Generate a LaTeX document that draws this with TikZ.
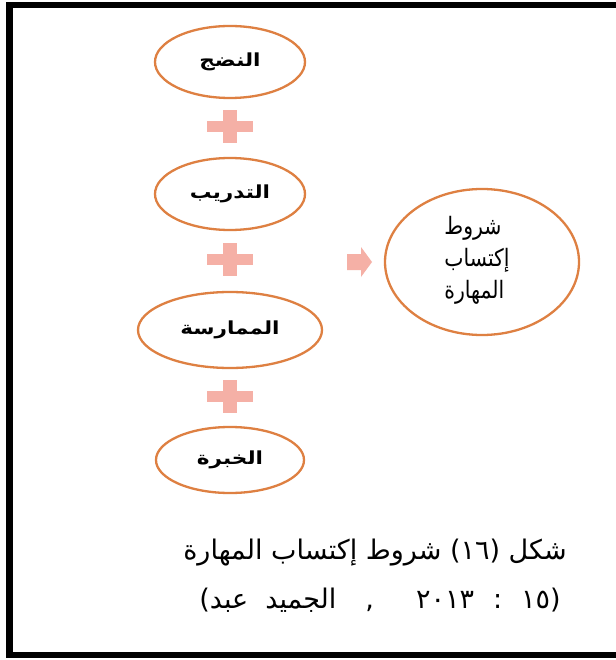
\documentclass[tikz,border=0pt]{standalone}
\usepackage{fontspec}
\usetikzlibrary{shapes.geometric}
\newfontfamily\arabicfont[Script=Arabic]{DejaVu Sans}
\newfontfamily\latinfont{DejaVu Sans}
\newfontfamily\arlabelfont[Script=Arabic,FakeStretch=1.2]{DejaVu Sans}
\newfontfamily\argoalfont[Script=Arabic,FakeStretch=0.85]{DejaVu Sans}
\definecolor{rimorange}{RGB}{222,128,66}
\definecolor{pluspink}{RGB}{245,176,166}
% each token is set as its own run
\newcommand\arword[1]{\hbox{#1}}
\newcommand\latparen[1]{\hbox{\latinfont #1}}
\begin{document}
\begin{tikzpicture}[x=1pt,y=-1pt,
  cond/.style={ellipse,draw=rimorange,line width=2.3pt,fill=white,
    minimum width=#1,minimum height=72pt,inner sep=0pt,
    font=\arlabelfont\bfseries\fontsize{18}{20}\selectfont},
  cond/.default=150pt,
  goalbox/.style={ellipse,draw=rimorange,line width=2.3pt,fill=white,
    minimum width=194pt,minimum height=146pt,inner sep=0pt},
  goaltext/.style={align=left,inner sep=0pt,
    font=\argoalfont\fontsize{24}{32}\selectfont},
  caption/.style={font=\arabicfont\fontsize{27}{30}\selectfont},
  plussign/.pic={
    \fill[pluspink] (-23,-5) rectangle (23,6);
    \fill[pluspink] (-7,-16) rectangle (7,17);
  }]
\useasboundingbox (0,0) rectangle (615,660);
\fill[white] (0,0) rectangle (615,660);
% frame, open on the right
\draw[line width=6.5pt] (630,5) -- (9.5,5) -- (9.5,655) -- (630,655);

% the four conditions
\node[cond] (e1) at (230,62) {النضج};
\node[cond] (e2) at (230,194) {التدريب};
\node[cond=184pt,minimum height=76pt] (e3) at (230,330) {الممارسة};
\node[cond=148pt,minimum height=66pt] (e4) at (230,460) {الخبرة};

% plus signs between them
\pic at (230,126) {plussign};
\pic at (230,259) {plussign};
\pic at (230,396) {plussign};

% result
\node[goalbox] (goal) at (482,262) {};
\node[goaltext] (goallabel) at (477,260) {شروط\\إكتساب\\المهارة};

% block arrow towards the result
\fill[pluspink] (347,254) -- (361,254) -- (361,247) -- (372,262)
  -- (361,277) -- (361,270) -- (347,270) -- cycle;

% caption
\node[caption] (cap1) at (375,553) {\arword{المهارة} \arword{إكتساب}
  \arword{شروط} \arword{)}\arword{١٦}\arword{(} \arword{شكل}};
\node[caption] (cap2) at (380,600) {\latparen{(}\arword{عبد}\hspace{17pt}%
  \arword{الجميد}\hspace{29pt}\arword{,}\hspace{42pt}\arword{٢٠١٣}%
  \hspace{19pt}\arword{:}\hspace{19pt}\arword{١٥}\latparen{)}};
\end{tikzpicture}
\end{document}
